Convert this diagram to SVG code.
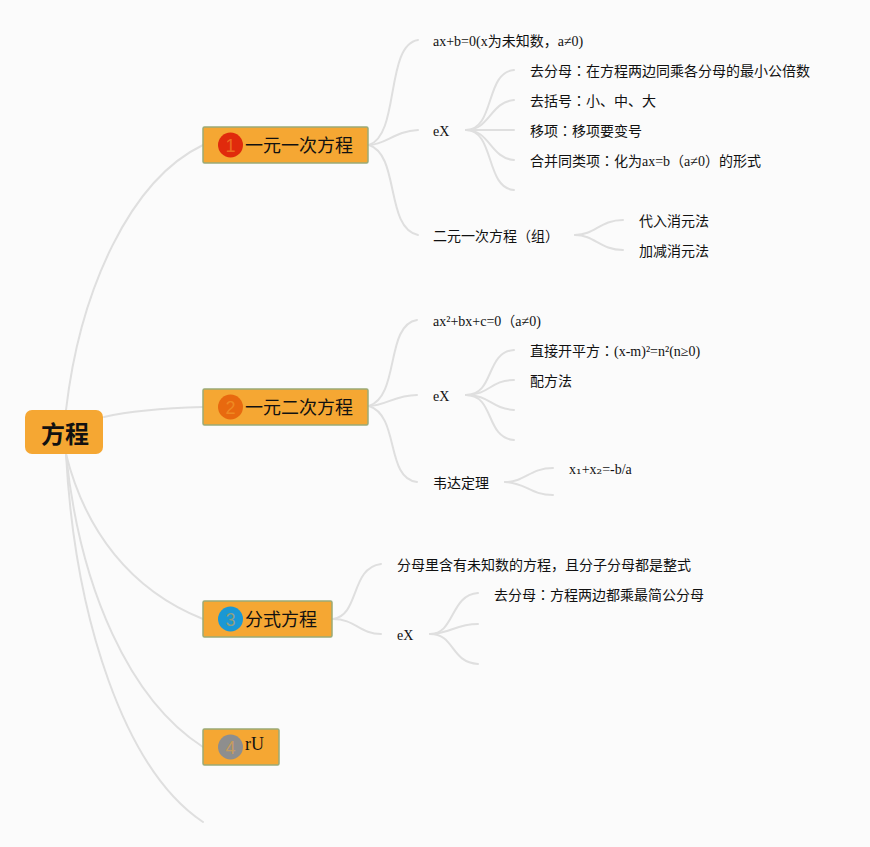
<svg xmlns="http://www.w3.org/2000/svg" width="870" height="847" viewBox="0 0 870 847">
<style>
text{font-family:"Liberation Serif","Noto Sans CJK SC",serif;fill:#111}
.l{font-size:14px}
.m{font-size:18px}
.c{font-family:"Noto Sans CJK TC",sans-serif}
.s{font-family:"DejaVu Serif",serif}
.n{fill:#f5a733;stroke:#9aab77;stroke-width:1.5}
.b{font-family:"Liberation Sans","Noto Sans",sans-serif;font-size:18px;text-anchor:middle;fill-opacity:.55;fill:#f5a733}
#connectors path{fill:none;stroke:#dfdfdf;stroke-width:2;stroke-linecap:round}
</style>
<rect width="870" height="847" fill="#fbfbfb"/>
<g id="connectors">
<path d="M66 410C80 290 130 180 203 145"/>
<path d="M104 417C130 411 170 408 203 407"/>
<path d="M66 454C85 530 130 590 203 619"/>
<path d="M66 454C80 590 130 700 203 747"/>
<path d="M66 454C75 620 125 770 203 822"/>
<path d="M369 145C400 135 385 45 418 40"/>
<path d="M369 145C385 145 395 131 418 130"/>
<path d="M369 145C400 155 385 228 418 235"/>
<path d="M466 130C495 130 485 72 514 70"/>
<path d="M466 130C490 130 490 102 514 100"/>
<path d="M466 130H514"/>
<path d="M466 130C490 130 490 158 514 160"/>
<path d="M466 130C495 130 485 188 514 190"/>
<path d="M575 235C595 235 600 220 623 220"/>
<path d="M575 235C595 235 600 250 623 250"/>
<path d="M369 406C400 396 385 325 417 320"/>
<path d="M369 406C385 406 395 395 417 395"/>
<path d="M369 406C400 416 385 478 417 482"/>
<path d="M466 395C495 395 485 352 514 350"/>
<path d="M466 395C490 395 490 380 514 380"/>
<path d="M466 395C490 395 490 408 514 410"/>
<path d="M466 395C495 395 485 438 514 440"/>
<path d="M505 482C525 482 530 468 553 468"/>
<path d="M505 482C525 482 530 495 553 495"/>
<path d="M333 619C360 615 350 568 381 564"/>
<path d="M333 619C355 619 360 634 381 634"/>
<path d="M430 634C455 634 450 595 478 593"/>
<path d="M430 634C450 634 455 624 478 624"/>
<path d="M430 634C455 634 450 662 478 664"/>
</g>
<g id="root"><rect x="25" y="410" width="78" height="44" rx="7" fill="#f5a733"/><text x="41" y="443" style="font-size:24px;font-weight:700;font-family:'Noto Sans CJK SC',sans-serif">方程</text></g>
<g id="node1"><rect class="n" x="203" y="127" width="165" height="36" rx="1.5"/><circle cx="230.500" cy="145" r="12.500" fill="#e02a0c"/><text class="b" x="230.500" y="151.500">1</text><text class="m" x="245" y="152">一元一次方程</text></g>
<g id="node2"><rect class="n" x="203" y="389" width="165" height="36" rx="1.500"/><circle cx="230.500" cy="407" r="12.500" fill="#e8690f"/><text class="b" x="230.500" y="413.500">2</text><text class="m" x="245" y="414">一元二次方程</text></g>
<g id="node3"><rect class="n" x="203" y="601" width="129" height="36" rx="1.500"/><circle cx="230.500" cy="619" r="12.500" fill="#1a98d5"/><text class="b" x="230.500" y="625.500">3</text><text class="m" x="245" y="626">分式方程</text></g>
<g id="node4"><rect class="n" x="203" y="729" width="76" height="36" rx="1.500"/><circle cx="230.500" cy="747" r="12.500" fill="#8e8e8e"/><text class="b" x="230.500" y="753.500">4</text><text class="m" x="245" y="750">rU</text></g>
<g id="n1a"><text class="l" x="433" y="46">ax+b=0(x为未知数，a≠0)</text></g>
<g id="n1b"><text class="l" x="433" y="136">eX</text></g>
<g id="n1c"><text class="l" x="433" y="241">二元一次方程（组）</text></g>
<g id="n1b1"><text class="l" x="530" y="76">去分母<tspan class="c">：</tspan>在方程两边同乘各分母的最小公倍数</text></g>
<g id="n1b2"><text class="l" x="530" y="106">去括号<tspan class="c">：</tspan>小、中、大</text></g>
<g id="n1b3"><text class="l" x="530" y="136">移项<tspan class="c">：</tspan>移项要变号</text></g>
<g id="n1b4"><text class="l" x="530" y="166">合并同类项<tspan class="c">：</tspan>化为ax=b（a≠0）的形式</text></g>
<g id="n1c1"><text class="l" x="639" y="226">代入消元法</text></g>
<g id="n1c2"><text class="l" x="639" y="256">加减消元法</text></g>
<g id="n2a"><text class="l" x="433" y="326">ax²+bx+c=0（a≠0)</text></g>
<g id="n2b"><text class="l" x="433" y="401">eX</text></g>
<g id="n2c"><text class="l" x="433" y="488">韦达定理</text></g>
<g id="n2b1"><text class="l" x="530" y="356">直接开平方<tspan class="c">：</tspan>(x-m)²=n²(n≥0)</text></g>
<g id="n2b2"><text class="l" x="530" y="386">配方法</text></g>
<g id="n2c1"><text class="l" x="569" y="474">x<tspan class="s">₁</tspan>+x<tspan class="s">₂</tspan>=-b/a</text></g>
<g id="n3a"><text class="l" x="397" y="570">分母里含有未知数的方程，且分子分母都是整式</text></g>
<g id="n3b"><text class="l" x="397" y="640">eX</text></g>
<g id="n3b1"><text class="l" x="494" y="600">去分母<tspan class="c">：</tspan>方程两边都乘最简公分母</text></g>
</svg>
